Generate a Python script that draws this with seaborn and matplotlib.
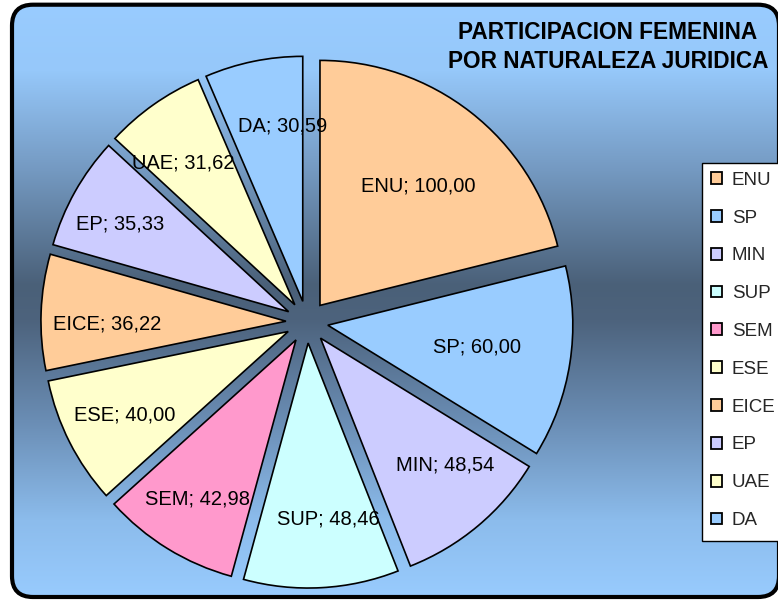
import numpy as np
import matplotlib
matplotlib.use("Agg")
import matplotlib.pyplot as plt
import seaborn as sns
from matplotlib.patches import FancyBboxPatch, Patch, Rectangle

# ---- data ----
categories = ["ENU", "SP", "MIN", "SUP", "SEM", "ESE", "EICE", "EP", "UAE", "DA"]
values = [100.00, 60.00, 48.54, 48.46, 42.98, 40.00, 36.22, 35.33, 31.62, 30.59]
colors = ["#FFCC99", "#99CCFF", "#CCCCFF", "#CCFFFF", "#FF99CC",
          "#FFFFCC", "#FFCC99", "#CCCCFF", "#FFFFCC", "#99CCFF"]
title = "PARTICIPACION FEMENINA\nPOR NATURALEZA JURIDICA"

# style: label placement per slice (fraction of radius, angular nudge in degrees)
label_r = [0.63, 0.615, 0.727, 0.722, 0.763, 0.748, 0.728, 0.774, 0.735, 0.72]
label_dtheta = [-1.5, 0.5, 4.6, 3.5, 0.0, 0.3, 3.0, 1.7, 2.9, -5.2]

sns.set_theme(style="white")
plt.rcParams["font.family"] = ["Liberation Sans", "DejaVu Sans"]
lab_fs = 14.5
leg_fs = 13.5

W, H = 778, 601
fig = plt.figure(figsize=(W / 100, H / 100), dpi=100)
fig.patch.set_facecolor("white")

# ---- background with gradient & rounded border ----
bg = fig.add_axes([0, 0, 1, 1])
bg.set_xlim(0, W)
bg.set_ylim(H, 0)
bg.axis("off")
ys = np.arange(H)
stops_y = [0, 70, 170, 285, 320, 420, 520, H]
stops_c = np.array([[153, 204, 255], [150, 200, 250], [116, 153, 193],
                    [74, 96, 120], [77, 99, 125], [106, 141, 180],
                    [140, 188, 236], [153, 204, 255]]) / 255.0
grad = np.stack([np.interp(ys, stops_y, stops_c[:, k]) for k in range(3)], axis=-1)
grad = grad[:, None, :]
border = FancyBboxPatch((12, 4.7), 767, 592.3, boxstyle="round,pad=0,rounding_size=21",
                        facecolor="none", edgecolor="black", linewidth=3.0, zorder=2)
bg.add_patch(border)
im = bg.imshow(grad, extent=[0, W, H, 0], aspect="auto", zorder=1)
im.set_clip_path(border)
# legend frame (extends past the right edge like the original)
bg.add_patch(Rectangle((702, 162.5), 100, 378.5, facecolor="white", edgecolor="black",
                       linewidth=1.0, zorder=3))

# ---- pie ----
cx, cy, R = 307, 322, 245
lim = 1.12
half = R * lim
ax = fig.add_axes([(cx - half) / W, (H - cy - half) / H, 2 * half / W, 2 * half / H])
ax.patch.set_alpha(0)
wedges, _ = ax.pie(values, colors=colors, startangle=90, counterclock=False,
                   explode=[0.086] * len(values), radius=1,
                   wedgeprops=dict(edgecolor="black", linewidth=1.2))
ax.set_xlim(-lim, lim)
ax.set_ylim(-lim, lim)
ax.axis("off")

for w, cat, v, r, dt in zip(wedges, categories, values, label_r, label_dtheta):
    ang = np.deg2rad((w.theta1 + w.theta2) / 2 + dt)
    x0, y0 = w.center
    txt = f"{cat}; {v:.2f}".replace(".", ",")
    ax.text(x0 + r * np.cos(ang), y0 + r * np.sin(ang), txt, ha="center", va="center",
            fontsize=lab_fs, color="black")

# ---- title ----
fig.text(608 / W, 1 - 47 / H, title, ha="center", va="center", fontsize=16.3,
         fontweight="bold", linespacing=1.33, color="black")

# ---- legend ----
handles = [Patch(facecolor=c, edgecolor="black", linewidth=1.3) for c in colors]
leg = fig.legend(handles, categories, loc="upper left",
                 bbox_to_anchor=(707 / W, 1 - 168 / H), bbox_transform=fig.transFigure,
                 frameon=False, fontsize=leg_fs,
                 handlelength=0.59, handleheight=0.59, handletextpad=0.53,
                 labelspacing=1.11, borderpad=0.2, borderaxespad=0)

fig.savefig("out.png", dpi=100)
